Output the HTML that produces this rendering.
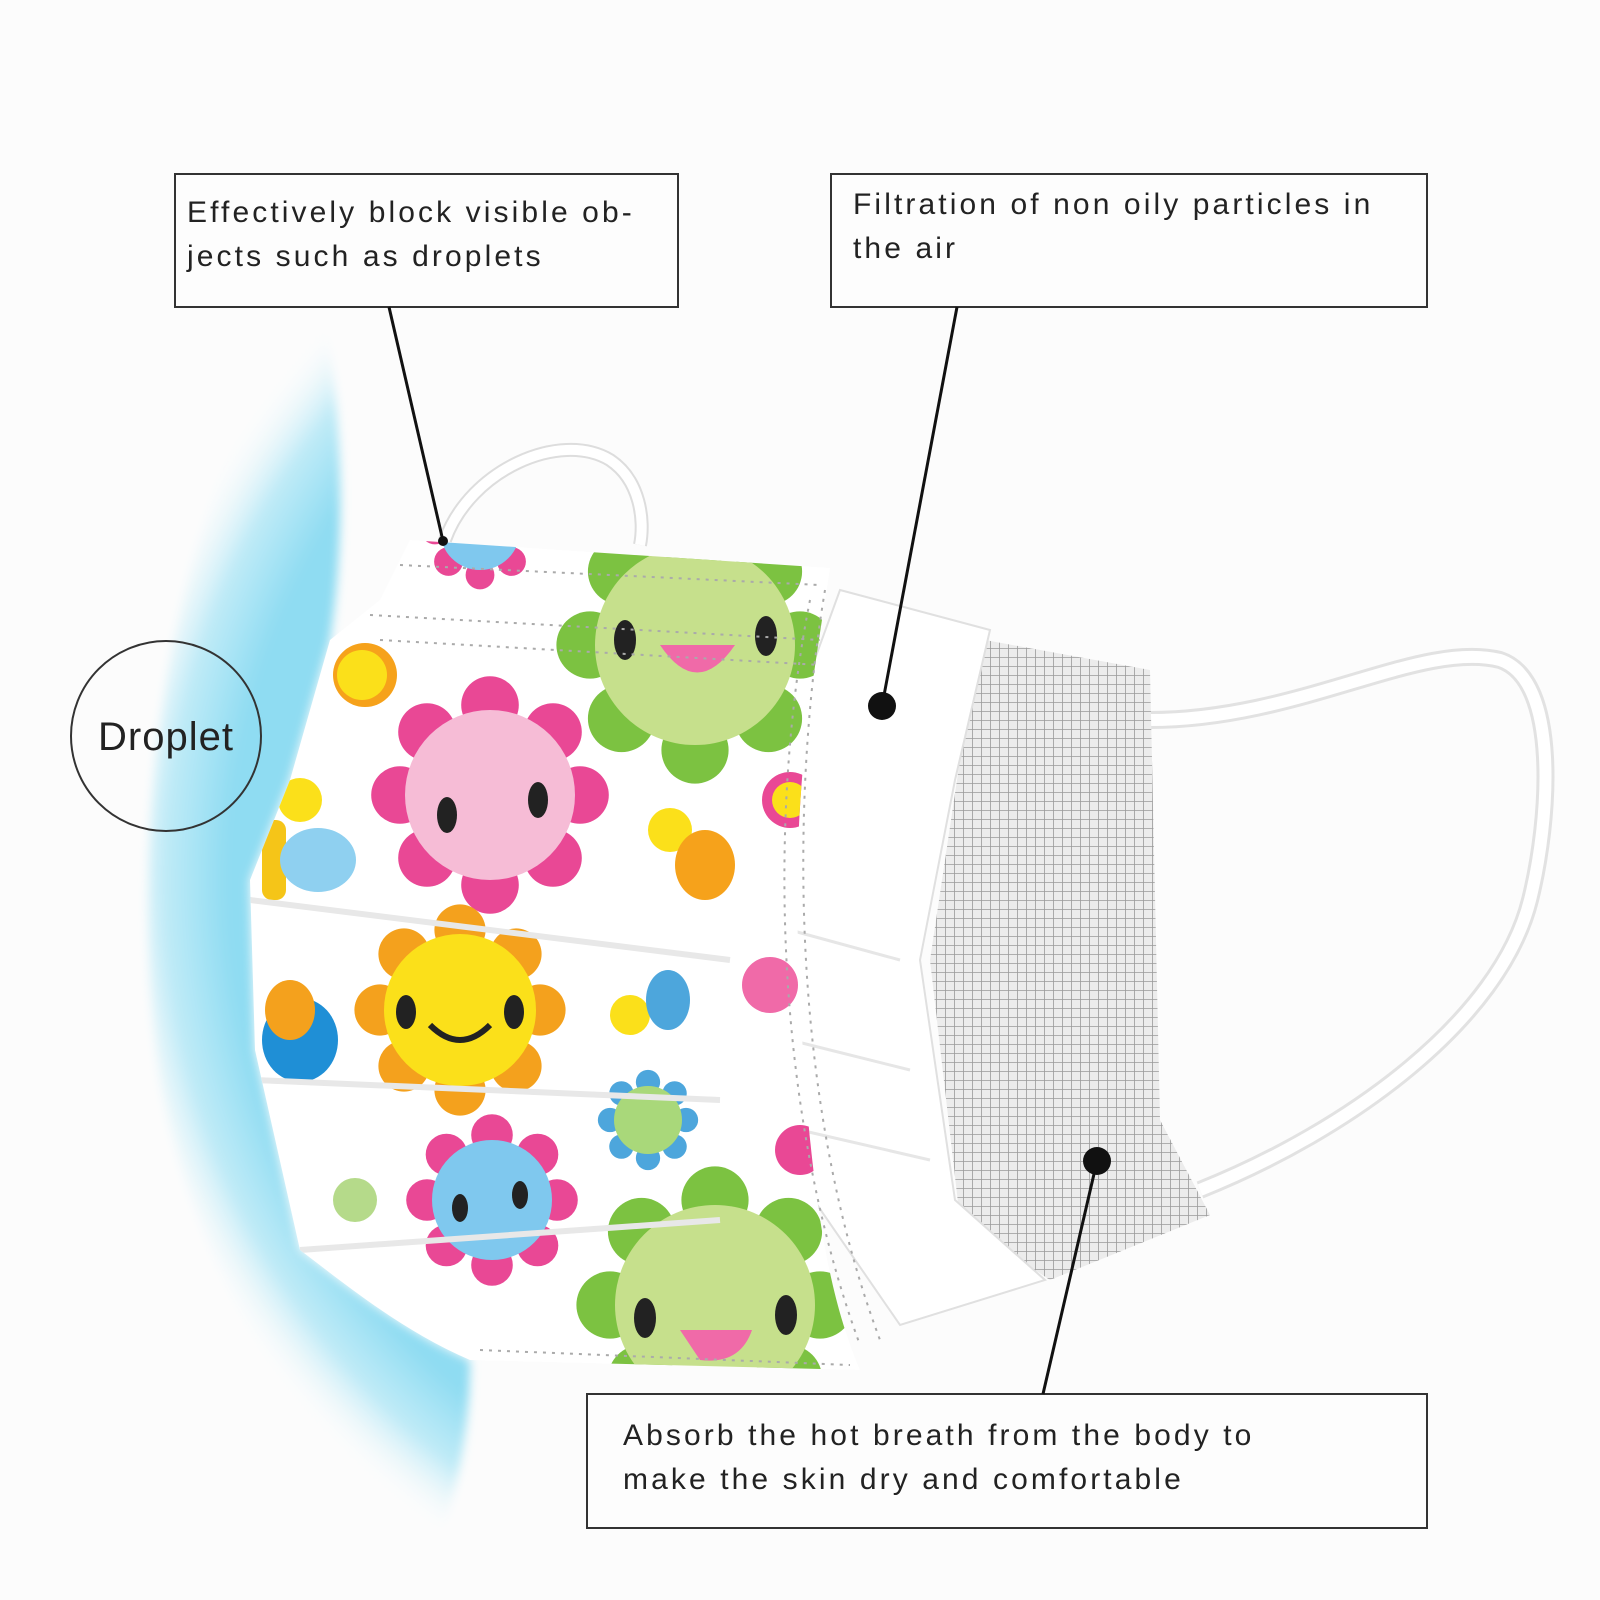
<!DOCTYPE html>
<html><head><meta charset="utf-8"><style>
html,body{margin:0;padding:0;background:#fdfdfd;}
.wrap{position:relative;width:1600px;height:1600px;overflow:hidden;background:#fcfcfc;}
svg{position:absolute;left:0;top:0;}
.t{font-family:"Liberation Sans",sans-serif;font-size:30px;fill:#222;letter-spacing:3.1px;}
</style></head><body><div class="wrap">
<svg width="1600" height="1600" viewBox="0 0 1600 1600">
<defs>
<radialGradient id="blue" cx="900" cy="880" r="800" gradientUnits="userSpaceOnUse">
<stop offset="0.6" stop-color="#8fdcf2"/>
<stop offset="0.84" stop-color="#8fdcf2"/>
<stop offset="0.92" stop-color="#c0ebf7"/>
<stop offset="1" stop-color="#fcfcfc" stop-opacity="0"/>
</radialGradient>
<clipPath id="cres"><path d="M320 290 C180 470 120 800 160 1080 C200 1300 320 1460 440 1540 C460 1480 470 1420 470 1360 C400 1330 340 1280 300 1250 L255 1050 L250 880 L290 780 L330 640 C345 540 345 420 320 290 Z"/></clipPath>
<filter id="blur" x="-20%" y="-20%" width="140%" height="140%"><feGaussianBlur stdDeviation="5"/></filter>
<pattern id="grid" width="9" height="9" patternUnits="userSpaceOnUse">
<rect width="9" height="9" fill="#ececec"/>
<path d="M0 0H9M0 0V9" stroke="#9a9a9a" stroke-width="1.6"/>
</pattern>
<clipPath id="panel"><path d="M410 540 L830 568 C810 700 790 800 800 1000 C810 1200 830 1300 860 1370 L470 1360 C400 1330 340 1280 300 1250 L255 1050 L250 880 L290 780 L330 640 L380 600 Z"/></clipPath>
<g id="flw">
<circle cx="0" cy="-1" r="0.32"/><circle cx="0.7" cy="-0.7" r="0.32"/><circle cx="1" cy="0" r="0.32"/><circle cx="0.7" cy="0.7" r="0.32"/>
<circle cx="0" cy="1" r="0.32"/><circle cx="-0.7" cy="0.7" r="0.32"/><circle cx="-1" cy="0" r="0.32"/><circle cx="-0.7" cy="-0.7" r="0.32"/>
</g>
</defs>
<!-- blue arc -->
<g filter="url(#blur)"><rect x="0" y="280" width="700" height="1280" fill="url(#blue)" clip-path="url(#cres)"/></g>
<!-- ear loop top -->
<path d="M445 540 C470 470 560 430 610 460 C640 480 645 520 640 545" fill="none" stroke="#ddd" stroke-width="14"/>
<path d="M445 540 C470 470 560 430 610 460 C640 480 645 520 640 545" fill="none" stroke="#fff" stroke-width="10"/>
<!-- right ear loop -->
<path d="M1150 720 C1300 720 1420 640 1500 660 C1560 680 1550 820 1530 900 C1500 1020 1350 1130 1200 1190" fill="none" stroke="#e2e2e2" stroke-width="18"/>
<path d="M1150 720 C1300 720 1420 640 1500 660 C1560 680 1550 820 1530 900 C1500 1020 1350 1130 1200 1190" fill="none" stroke="#fff" stroke-width="12"/>
<!-- grid layer -->
<path d="M985 640 L1150 670 L1160 1120 L1210 1215 L1050 1280 L960 1220 L930 960 L960 760 Z" fill="url(#grid)"/>
<!-- white layer -->
<path d="M840 590 L990 630 L955 780 L920 960 L955 1200 L1045 1280 L900 1325 L800 1180 L770 900 L800 700 Z" fill="#fff" stroke="#e0e0e0" stroke-width="2"/>
<path d="M790 930 L900 960 M790 1040 L910 1070 M800 1130 L930 1160" stroke="#e6e6e6" stroke-width="3"/>
<!-- printed panel -->
<path d="M410 540 L830 568 C810 700 790 800 800 1000 C810 1200 830 1300 860 1370 L470 1360 C400 1330 340 1280 300 1250 L255 1050 L250 880 L290 780 L330 640 L380 600 Z" fill="#fff"/>
<g clip-path="url(#panel)">
<g fill="#7cc241"><use href="#flw" transform="translate(695,645) scale(105)"/></g>
<circle cx="695" cy="645" r="100" fill="#c6e08c"/>
<ellipse cx="625" cy="640" rx="11" ry="20" fill="#222"/><ellipse cx="766" cy="636" rx="11" ry="20" fill="#222"/>
<path d="M660 645 Q697 700 735 645 Z" fill="#f06aa8"/>
<g fill="#e94895"><use href="#flw" transform="translate(490,795) scale(90)"/></g>
<circle cx="490" cy="795" r="85" fill="#f6bcd6"/>
<ellipse cx="447" cy="815" rx="10" ry="18" fill="#222"/><ellipse cx="538" cy="800" rx="10" ry="18" fill="#222"/>
<g fill="#f4a11d"><use href="#flw" transform="translate(460,1010) scale(80)"/></g>
<circle cx="460" cy="1010" r="76" fill="#fbe01a"/>
<ellipse cx="406" cy="1012" rx="10" ry="17" fill="#222"/><ellipse cx="514" cy="1012" rx="10" ry="17" fill="#222"/>
<path d="M430 1025 Q460 1055 490 1025" stroke="#222" stroke-width="6" fill="none"/>
<g fill="#e94895"><use href="#flw" transform="translate(492,1200) scale(65)"/></g>
<circle cx="492" cy="1200" r="60" fill="#7fc8ee"/>
<ellipse cx="460" cy="1208" rx="8" ry="14" fill="#222"/><ellipse cx="520" cy="1195" rx="8" ry="14" fill="#222"/>
<g fill="#7cc241"><use href="#flw" transform="translate(715,1305) scale(105)"/></g>
<circle cx="715" cy="1305" r="100" fill="#c6e08c"/>
<ellipse cx="645" cy="1318" rx="11" ry="20" fill="#222"/><ellipse cx="786" cy="1315" rx="11" ry="20" fill="#222"/>
<path d="M680 1330 L752 1330 Q740 1365 700 1360 Z" fill="#f06aa8"/>
<g fill="#4da6dc"><use href="#flw" transform="translate(648,1120) scale(38)"/></g>
<circle cx="648" cy="1120" r="34" fill="#a9d87a"/>
<g fill="#e94895"><use href="#flw" transform="translate(480,530) scale(45)"/></g>
<circle cx="480" cy="530" r="40" fill="#7fc8ee"/>
<circle cx="365" cy="675" r="32" fill="#f6a21b"/><circle cx="362" cy="675" r="25" fill="#fbe01a"/>
<circle cx="670" cy="830" r="22" fill="#fbe01a"/><ellipse cx="705" cy="865" rx="30" ry="35" fill="#f6a21b"/>
<circle cx="630" cy="1015" r="20" fill="#fbe01a"/><ellipse cx="668" cy="1000" rx="22" ry="30" fill="#4da6dc"/>
<circle cx="300" cy="800" r="22" fill="#fbe01a"/><rect x="262" y="820" width="24" height="80" rx="10" fill="#f5c518"/>
<ellipse cx="318" cy="860" rx="38" ry="32" fill="#8fd0f0"/>
<ellipse cx="300" cy="1040" rx="38" ry="42" fill="#1f8fd6"/><ellipse cx="290" cy="1010" rx="25" ry="30" fill="#f4a11d"/>
<circle cx="355" cy="1200" r="22" fill="#b5da8a"/>
<circle cx="790" cy="800" r="28" fill="#e94895"/><circle cx="790" cy="800" r="18" fill="#fbe01a"/>
<circle cx="770" cy="985" r="28" fill="#f06aa8"/>
<circle cx="800" cy="1150" r="25" fill="#e94895"/>
<path d="M250 900 L730 960 M255 1080 L720 1100 M300 1250 L720 1220" stroke="#e8e8e8" stroke-width="6"/>
</g>
<g fill="none" stroke="#aaa" stroke-width="2" stroke-dasharray="3 6">
<path d="M400 565 L820 585"/><path d="M370 615 L820 640"/><path d="M380 640 L820 665"/>
<path d="M825 590 C790 800 790 1100 880 1340"/><path d="M810 600 C770 800 770 1100 860 1345"/>
<path d="M480 1350 L850 1365"/>
</g>
<!-- boxes -->
<g fill="#fdfdfd" stroke="#333" stroke-width="2">
<rect x="175" y="174" width="503" height="133"/>
<rect x="831" y="174" width="596" height="133"/>
<rect x="587" y="1394" width="840" height="134"/>
</g>
<text class="t" x="187" y="222">Effectively block visible ob-</text>
<text class="t" x="187" y="266">jects such as droplets</text>
<text class="t" x="853" y="214">Filtration of non oily particles in</text>
<text class="t" x="853" y="258">the air</text>
<text class="t" x="623" y="1445">Absorb the hot breath from the body to</text>
<text class="t" x="623" y="1489">make the skin dry and comfortable</text>
<!-- leaders -->
<g stroke="#111" stroke-width="3">
<line x1="389" y1="307" x2="443" y2="541"/>
<line x1="957" y1="307" x2="882" y2="706"/>
<line x1="1043" y1="1394" x2="1097" y2="1161"/>
</g>
<circle cx="443" cy="541" r="5" fill="#111"/>
<circle cx="882" cy="706" r="14" fill="#111"/>
<circle cx="1097" cy="1161" r="14" fill="#111"/>
<!-- droplet -->
<circle cx="166" cy="736" r="95" fill="none" stroke="#333" stroke-width="2"/>
<text x="166" y="750" text-anchor="middle" font-family="Liberation Sans,sans-serif" font-size="40" letter-spacing="1" fill="#222">Droplet</text>
</svg>
</div></body></html>
